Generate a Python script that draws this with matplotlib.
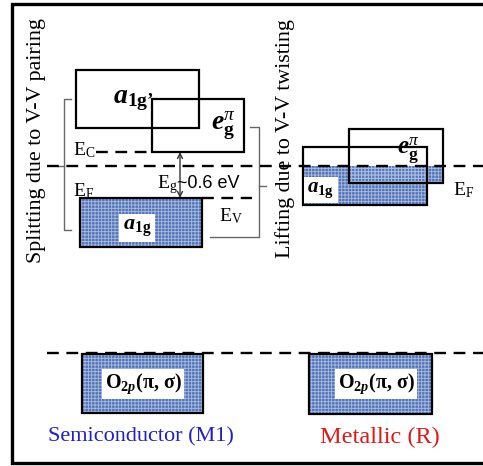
import matplotlib
matplotlib.use('Agg')
import matplotlib.pyplot as plt
from matplotlib.patches import Rectangle

plt.rcParams['mathtext.fontset'] = 'custom'
plt.rcParams['mathtext.rm'] = 'Liberation Serif'
plt.rcParams['mathtext.it'] = 'Liberation Serif:italic'
plt.rcParams['mathtext.bf'] = 'Liberation Serif:bold'
plt.rcParams['mathtext.bfit'] = 'Liberation Serif:bold:italic'
plt.rcParams['mathtext.sf'] = 'Liberation Sans'
plt.rcParams['font.family'] = ['Liberation Serif', 'DejaVu Serif']
plt.rcParams['hatch.linewidth'] = 0.6

# ---------------- data (diagram units, energy increases upward => smaller y) -------------
panel_titles = ["Semiconductor (M1)", "Metallic (R)"]
panel_title_colors = ["#2020c8", "#e01818"]
panel_title_x = [141, 380]

# Semiconductor (M1) bands
m1_band_labels = [r"$\mathbfit{a}_{\mathbf{1g’}}$", r"$\mathbfit{e}_{\mathbf{g}}^{\pi}$",
                  r"$\mathbfit{a}_{\mathbf{1g}}$", r"O$_{\mathbf{2}\mathbfit{p}}$(π, σ)"]
m1_left = [76, 152, 80, 82]
m1_right = [199, 244, 202, 203]
m1_top = [70, 99, 198, 354]
m1_bottom = [128, 152, 247, 413]
m1_filled = [False, False, True, True]

# Metallic (R) bands
r_band_labels = [r"$\mathbfit{e}_{\mathbf{g}}^{\pi}$", r"$\mathbfit{a}_{\mathbf{1g}}$",
                 r"O$_{\mathbf{2}\mathbfit{p}}$(π, σ)"]
r_left = [349, 303, 309]
r_right = [443, 427, 432]
r_top = [129, 147, 354]
r_bottom = [183, 205, 414]

fermi_level = 166
o2p_top_level = 353
m1_conduction_edge = 152
m1_valence_edge = 198
gap_text = "~0.6 eV"

split_text = "Splitting due to V-V pairing"
lift_text = "Lifting due to V-V twisting"

# ---------------- styles ----------------
BLUE = '#5574b6'
TEX = '#a9bce2'
W, H = 483, 466

fig = plt.figure(figsize=(W / 100, H / 100), dpi=100)
ax = fig.add_axes([0, 0, 1, 1])
ax.set_xlim(0, W)
ax.set_ylim(H, 0)
ax.axis('off')

# outer frame (right side cropped)
ax.plot([W + 5, 12, 12, W + 5], [4, 4, 463, 463], color='black', lw=2.4,
        solid_joinstyle='miter', clip_on=False)


def band(x0, x1, y0, y1, fill_from=None):
    if fill_from is not None:
        fy = max(y0, fill_from)
        ax.add_patch(Rectangle((x0, fy), x1 - x0, y1 - fy, facecolor=BLUE, edgecolor='none', zorder=1))
        ax.add_patch(Rectangle((x0, fy), x1 - x0, y1 - fy, facecolor='none', edgecolor=TEX,
                               hatch='+++++', lw=0, zorder=1.5))
    ax.add_patch(Rectangle((x0, y0), x1 - x0, y1 - y0, facecolor='none', edgecolor='black',
                           lw=1.6, zorder=3))


# M1 bands
for i in range(len(m1_left)):
    band(m1_left[i], m1_right[i], m1_top[i], m1_bottom[i],
         fill_from=m1_top[i] if m1_filled[i] else None)

# R bands: everything below the Fermi level is filled
for i in range(len(r_left)):
    band(r_left[i], r_right[i], r_top[i], r_bottom[i],
         fill_from=fermi_level if r_top[i] < fermi_level or i == 2 else None)

dash = (0, (5, 3.2))
# Fermi level line across both panels
ax.plot([47, W], [fermi_level, fermi_level], color='black', lw=1.7, ls=dash, zorder=4)
# O2p top line
ax.plot([47, W], [o2p_top_level, o2p_top_level], color='black', lw=1.7, ls=dash, zorder=4)
# E_C and E_V dashed
ax.plot([96, m1_left[1]], [m1_conduction_edge] * 2, color='black', lw=1.7, ls=dash, zorder=4)
ax.plot([m1_right[2], 252], [m1_valence_edge] * 2, color='black', lw=1.7, ls=dash, zorder=4)

# gap arrow
ax.annotate('', xy=(180, m1_conduction_edge), xytext=(180, m1_valence_edge),
            arrowprops=dict(arrowstyle='<->', color='#333333', lw=1.0, shrinkA=0, shrinkB=0,
                            mutation_scale=9), zorder=5)

# brackets
gc = '#666666'
ax.plot([71, 64, 64, 71], [99, 99, 230, 230], color=gc, lw=1.0, zorder=2)
ax.plot([58, 64], [fermi_level, fermi_level], color=gc, lw=1.0, zorder=2)
ax.plot([250, 259, 259, 210], [127, 127, 237, 237], color=gc, lw=1.0, zorder=2)
ax.plot([259, 266], [186, 186], color=gc, lw=1.0, zorder=2)

# rotated texts
ax.text(37, 141, split_text, rotation=90, ha='center', va='center', fontsize=15.8)
ax.text(285, 139, lift_text, rotation=90, ha='center', va='center', fontsize=15.8)

# band labels M1
ax.text(133, 100, m1_band_labels[0], ha='center', va='center', fontsize=20, zorder=6)
ax.text(223, 126, m1_band_labels[1], ha='center', va='center', fontsize=20, zorder=6)
wb = dict(boxstyle='square,pad=0.15', fc='white', ec='none')
ax.text(137, 228, m1_band_labels[2], ha='center', va='center', fontsize=16, bbox=wb, zorder=6)
ax.text(143, 384, m1_band_labels[3], ha='center', va='center', fontsize=14.5,
        fontweight='bold', bbox=wb, zorder=6)

# band labels R
ax.text(408, 151, r_band_labels[0], ha='center', va='center', fontsize=18, zorder=6)
ax.text(321, 190, r_band_labels[1], ha='center', va='center', fontsize=15, bbox=wb, zorder=6)
ax.text(376, 384, r_band_labels[2], ha='center', va='center', fontsize=14.5,
        fontweight='bold', bbox=wb, zorder=6)

# energy labels
ax.text(73, 150, r"E$_{\mathrm{C}}$", ha='left', va='center', fontsize=14, zorder=6)
ax.text(73, 191, r"E$_{\mathrm{F}}$", ha='left', va='center', fontsize=14, zorder=6)
ax.text(178, 185, r"E$_{\mathrm{g}}$", ha='right', va='center', fontsize=14, zorder=6)
ax.text(177, 183, gap_text, ha='left', va='center', fontsize=13, family='Liberation Sans', zorder=6)
ax.text(219, 216, r"E$_{\mathrm{V}}$", ha='left', va='center', fontsize=14, zorder=6)
ax.text(453, 190, r"E$_{\mathrm{F}}$", ha='left', va='center', fontsize=14, zorder=6)

# panel titles
ax.text(panel_title_x[0], 437, panel_titles[0], ha='center', va='center', fontsize=16,
        color=panel_title_colors[0])
ax.text(panel_title_x[1], 437, panel_titles[1], ha='center', va='center', fontsize=17.5,
        color=panel_title_colors[1])

fig.savefig('out.png', dpi=100)
